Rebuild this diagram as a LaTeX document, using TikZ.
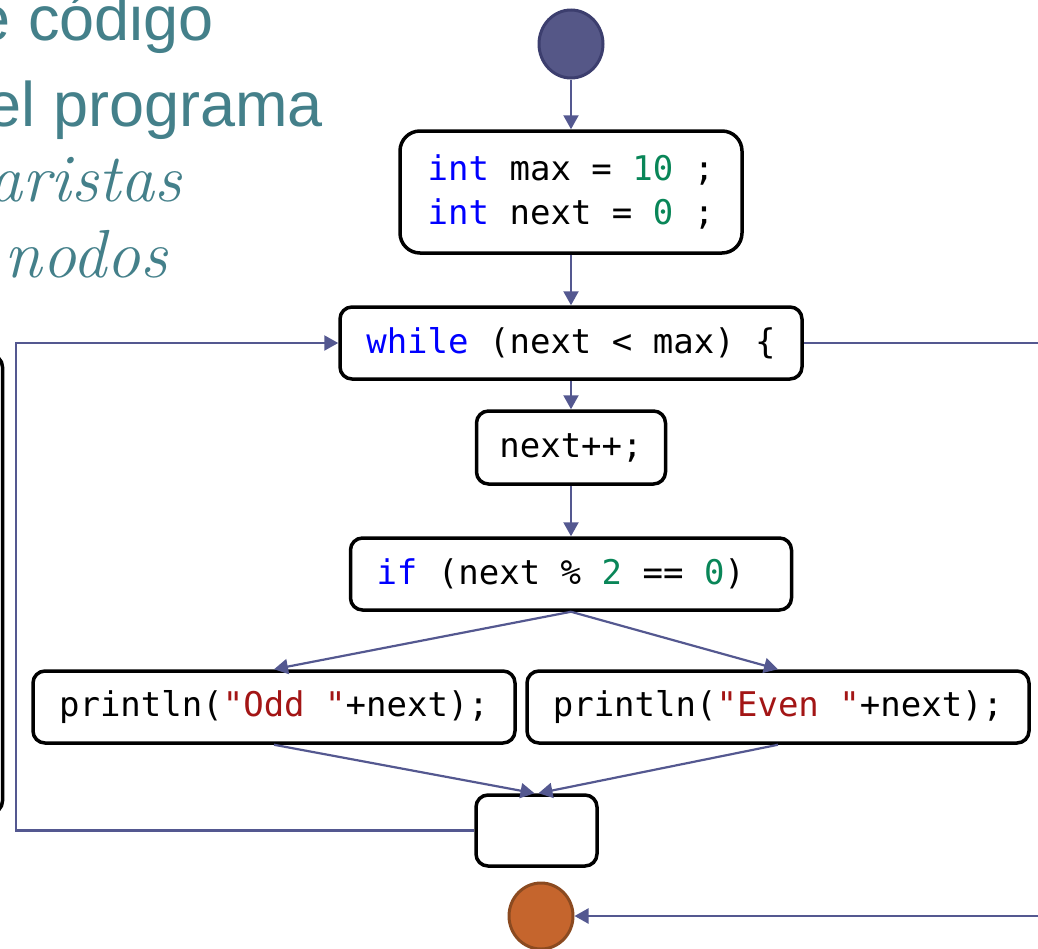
\documentclass[tikz,border=0pt]{standalone}
\usepackage{fontspec}
\usetikzlibrary{arrows.meta,calc,shapes.geometric}
\newfontfamily\codefont{DejaVu Sans Mono}
\newfontfamily\headfont{Liberation Sans}
\definecolor{flowc}{HTML}{545890}
\definecolor{headc}{HTML}{44808A}
\definecolor{kw}{HTML}{0000FF}
\definecolor{num}{HTML}{098658}
\definecolor{str}{HTML}{A31515}
\definecolor{startfill}{HTML}{555787}
\definecolor{startdraw}{HTML}{3C3E6E}
\definecolor{endfill}{HTML}{C5652D}
\definecolor{enddraw}{HTML}{8B4A20}
\tikzset{
  codebox/.style={draw=black, line width=3.5pt, rounded corners=12pt, fill=white,
    font=\codefont\fontsize{34}{44}\selectfont, inner sep=0pt},
  flow/.style={draw=flowc, line width=2.2pt, -{Triangle[width=15pt,length=14pt]}},
  flowline/.style={draw=flowc, line width=2.2pt},
  headtext/.style={text=headc, inner sep=0pt},
}
\begin{document}
\begin{tikzpicture}[x=1pt,y=-1pt]
\useasboundingbox (0,0) rectangle (1038,948);
% heading text (cut at left edge)
\node[headtext, anchor=base east, font=\headfont\fontsize{63}{63}\selectfont] (h1) at (214,40) {e código};
\node[headtext, anchor=base east, font=\headfont\fontsize{63}{63}\selectfont] (h2) at (323,126) {el programa};
\node[headtext, anchor=base east, font=\itshape\fontsize{68}{68}\selectfont] (h3) at (182,201) {aristas};
\node[headtext, anchor=base east, font=\itshape\fontsize{68}{68}\selectfont] (h4) at (168,277) {nodos};
% partial black box at the left edge
\draw[line width=3.5pt, rounded corners=12pt] (-100,355) rectangle (2.5,813);
% nodes
\node[ellipse, draw=startdraw, fill=startfill, line width=3pt, minimum width=64pt, minimum height=68pt, inner sep=0pt] (start) at (571,44) {};
\node[codebox, rounded corners=20pt, minimum width=342pt, minimum height=122pt, align=left] (init) at (571,192)
  {{\color{kw}int} max = {\color{num}10} ;\\{\color{kw}int} next = {\color{num}0} ;};
\node[codebox, minimum width=462pt, minimum height=72pt] (while) at (571,343)
  {{\color{kw}while} (next < max) \{};
\node[codebox, minimum width=189pt, minimum height=73pt] (inc) at (571,447.5) {next++;};
\node[codebox, minimum width=441pt, minimum height=72pt] (if) at (571,574)
  {\makebox[389pt][l]{{\color{kw}if} (next \% {\color{num}2} == {\color{num}0})}};
\node[codebox, minimum width=482pt, minimum height=72pt] (odd) at (274,707)
  {println({\color{str}"Odd "}+next);};
\node[codebox, minimum width=502pt, minimum height=72pt] (even) at (778,707)
  {println({\color{str}"Even "}+next);};
\node[codebox, minimum width=121pt, minimum height=71pt] (join) at (536.5,830.5) {};
\node[ellipse, draw=enddraw, fill=endfill, line width=3pt, minimum width=64pt, minimum height=66pt, inner sep=0pt] (endc) at (541,916) {};
% helper coordinates
\coordinate (loopx) at (16,0);
\coordinate (exitA) at (1045,343);
\coordinate (exitB) at (1045,916);
% connectors
\draw[flow] (start) -- (init);
\draw[flow] (init) -- (while);
\draw[flow] (while) -- (inc);
\draw[flow] (inc) -- (if);
\draw[flow] (if.south) -- (odd.north);
\draw[flow] (if.south) -- (even.north);
\draw[flow] (odd.south) -- ([xshift=-2pt]join.north);
\draw[flow] (even.south) -- ([xshift=2pt]join.north);
\draw[flow] (join.west) -- (join.west -| loopx) -- (while.west -| loopx) -- (while.west);
\draw[flowline] (while.east) -- (exitA);
\draw[flow] (exitB) -- (endc.east);
\end{tikzpicture}
\end{document}
